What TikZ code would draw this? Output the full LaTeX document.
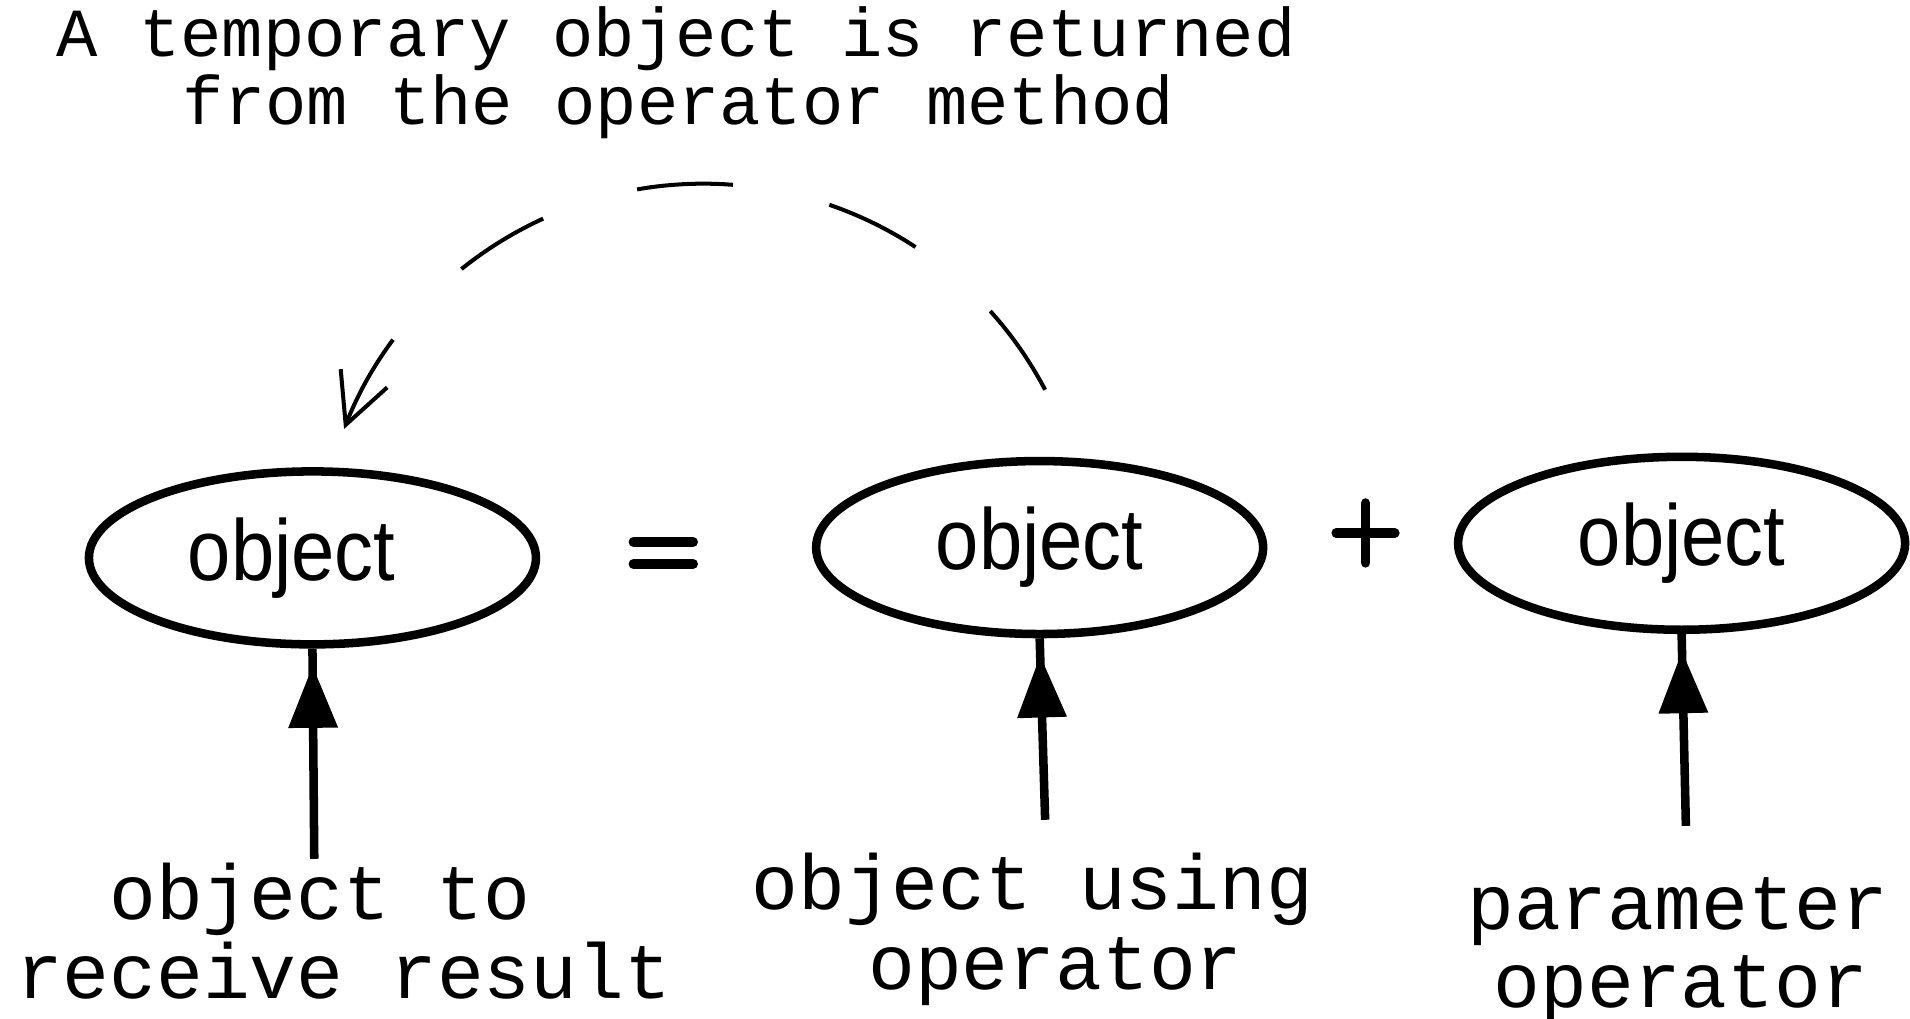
\documentclass[tikz,border=0pt]{standalone}
\usepackage{fontspec}
\setmainfont{Liberation Sans}
\newfontfamily\monofont{Liberation Mono}
\newfontfamily\objfont[FakeStretch=0.9]{Liberation Sans}
\usetikzlibrary{shapes.geometric,arrows.meta,decorations.markings}
\begin{document}
\begin{tikzpicture}[x=1pt,y=-1pt,
  obj/.style={ellipse, draw, line width=7pt, minimum width=367pt, minimum height=142pt,
    inner sep=0pt, font=\objfont\fontsize{71}{71}\selectfont},
  titletext/.style={anchor=base, inner sep=0pt, font=\monofont\fontsize{56.5}{57}\selectfont},
  lbltext/.style={anchor=base, inner sep=0pt, font=\monofont\fontsize{64}{65}\selectfont},
  uparrow/.style={line width=7pt, postaction={decorate},
    decoration={markings, mark=at position -14pt with {\arrow{Triangle[length=51pt,width=39pt]}}}},
  dasharc/.style={line width=3.3pt, dash pattern=on 79pt off 81pt,
    -{Straight Barb[length=41pt,width=41pt]}},
  opline/.style={line width=8pt, line cap=round}]
\useasboundingbox (0,0) rectangle (1568,836.5);

% title
\node[titletext] (t1) at (555,46) {A temporary object is returned};
\node[titletext] (t2) at (557,102) {from the operator method};

% ellipses
\node[obj] (e1) at (256.5,458) {object\hspace*{34pt}};
\node[obj] (e2) at (853.5,449.5) {object};
\node[obj] (e3) at (1380.5,446) {object};

% operators
\draw[opline] (520,445) -- (569,445);
\draw[opline] (520,463) -- (569,463);
\draw[opline] (1097,437.5) -- (1145,437.5);
\draw[opline] (1121,413) -- (1121,462);

% dashed return arc
\coordinate (arcS) at (858,320);
\draw[dasharc] (arcS) arc[start angle=-27.8, end angle=-158.6, radius=317];

% bottom labels
\node[lbltext] (l1a) at (262.5,755) {object to};
\node[lbltext] (l1b) at (282,820) {receive result};
\node[lbltext] (l2a) at (847.5,747) {object using};
\node[lbltext] (l2b) at (866.5,812) {operator};
\node[lbltext] (l3a) at (1377.5,763) {parameter};
\node[lbltext] (l3b) at (1380,827) {operator};

% arrows
\coordinate (a1) at (258,705);
\coordinate (a2) at (858,673);
\coordinate (a3) at (1384,678);
\draw[uparrow] (a1) -- (e1.south);
\draw[uparrow] (a2) -- (e2.south);
\draw[uparrow] (a3) -- (e3.south);
\end{tikzpicture}
\end{document}
